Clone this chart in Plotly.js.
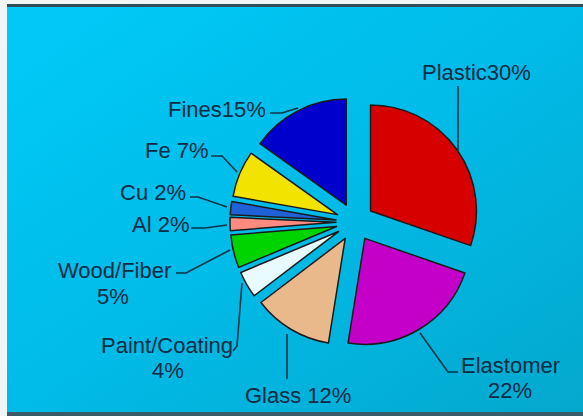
<!DOCTYPE html>
<html>
<head>
<meta charset="utf-8">
<script src="https://cdn.plot.ly/plotly-3.0.1.min.js"></script>
<style>
  html, body { margin: 0; padding: 0; background: #ffffff; }
  #chart { width: 583px; height: 416px; }
</style>
</head>
<body>
<div id="chart"></div>
<script>
// ---- data ----
const categories = ["Plastic", "Elastomer", "Glass", "Paint/Coating", "Wood/Fiber", "Al", "Cu", "Fe", "Fines"];
const values     = [30, 22, 12, 4, 5, 2, 2, 7, 15];
const sliceColors = ["#d60000", "#c400c8", "#e9b98c", "#e8fbff", "#00d400", "#ff8a80", "#1f62d8", "#f2e400", "#0000cc"];

// ---- layout helpers (figure pixels -> paper units) ----
const W = 583, H = 416;
const px = x => x / W;
const py = y => 1 - y / H;

// label layout: [category index, line1 joiner, two-line?, x center, y line1, y line2]
const labelLayout = [
  {i: 0, sep: "",  two: false, x: 476, y: 73},
  {i: 1, sep: "",  two: true,  x: 510, y: 365, x2: 510, y2: 390},
  {i: 2, sep: " ", two: false, x: 298, y: 395},
  {i: 3, sep: "",  two: true,  x: 167, y: 345, x2: 168, y2: 370},
  {i: 4, sep: "",  two: true,  x: 114, y: 270, x2: 113, y2: 296},
  {i: 5, sep: " ", two: false, x: 160, y: 224.5},
  {i: 6, sep: " ", two: false, x: 153, y: 192.5},
  {i: 7, sep: " ", two: false, x: 177, y: 150.5},
  {i: 8, sep: "",  two: false, x: 217, y: 110}
];

// leader lines (figure pixels)
const leaders = [
  [[458, 86], [458, 150]],
  [[420, 333], [448, 372], [458, 372]],
  [[287, 334], [287, 379]],
  [[242, 283], [237, 346], [233, 351]],
  [[176, 273], [186, 273], [230, 250]],
  [[191, 228], [205, 228], [227, 225]],
  [[190, 197], [198, 197], [227, 207]],
  [[211, 156], [222, 156], [237, 172]],
  [[270, 113], [282, 113], [298, 108]]
];

const textColor = "#0c2b44";
const lineColor = "#0b3546";
const font = {family: "Liberation Sans, Arial, sans-serif", size: 22, color: textColor};

const annotations = [];
labelLayout.forEach(L => {
  const name = categories[L.i], pct = values[L.i] + "%";
  if (L.two) {
    annotations.push({xref: "paper", yref: "paper", x: px(L.x), y: py(L.y), text: name,
      showarrow: false, xanchor: "center", yanchor: "middle", font: font});
    annotations.push({xref: "paper", yref: "paper", x: px(L.x2), y: py(L.y2), text: pct,
      showarrow: false, xanchor: "center", yanchor: "middle", font: font});
  } else {
    annotations.push({xref: "paper", yref: "paper", x: px(L.x), y: py(L.y), text: name + L.sep + pct,
      showarrow: false, xanchor: "center", yanchor: "middle", font: font});
  }
});

const shapes = leaders.map(pts => ({
  type: "path", xref: "paper", yref: "paper", layer: "above",
  path: pts.map((p, k) => (k ? "L" : "M") + px(p[0]).toFixed(5) + "," + py(p[1]).toFixed(5)).join(" "),
  line: {color: lineColor, width: 1.6}
}));

// background (gradient panel with frame strips)
const bgSvg =
  "<svg xmlns='http://www.w3.org/2000/svg' width='583' height='416' viewBox='0 0 583 416' preserveAspectRatio='none'>" +
  "<defs><linearGradient id='g' x1='0' y1='0' x2='1' y2='1'>" +
  "<stop offset='0' stop-color='#00caf8'/><stop offset='0.5' stop-color='#01bbe8'/><stop offset='1' stop-color='#04a8cd'/></linearGradient></defs>" +
  "<rect width='583' height='416' fill='#f1f5f6'/>" +
  "<rect x='7' y='4' width='576' height='3' fill='#2f4e5a'/>" +
  "<rect x='7' y='7' width='576' height='405' fill='url(#g)'/>" +
  "<rect x='7' y='412' width='576' height='4' fill='#3a5c68'/>" +
  "</svg>";

const cx = 355, cy = 222, box = 250;
const trace = {
  type: "pie",
  labels: categories,
  values: values,
  sort: false,
  direction: "clockwise",
  rotation: 0,
  pull: values.map(() => 0.18),
  marker: {colors: sliceColors, line: {color: "#1a1a1a", width: 1.5}},
  textinfo: "none",
  hoverinfo: "label+percent",
  showlegend: false,
  domain: {x: [px(cx - box / 2), px(cx + box / 2)], y: [py(cy + box / 2), py(cy - box / 2)]}
};

const layout = {
  width: W, height: H,
  margin: {l: 0, r: 0, t: 0, b: 0},
  paper_bgcolor: "#ffffff",
  showlegend: false,
  images: [{
    source: "data:image/svg+xml;charset=utf-8," + encodeURIComponent(bgSvg),
    xref: "paper", yref: "paper", x: 0, y: 1, sizex: 1, sizey: 1,
    xanchor: "left", yanchor: "top", sizing: "stretch", layer: "below"
  }],
  annotations: annotations,
  shapes: shapes
};

Plotly.newPlot("chart", [trace], layout, {displayModeBar: false, staticPlot: true});
</script>
</body>
</html>
